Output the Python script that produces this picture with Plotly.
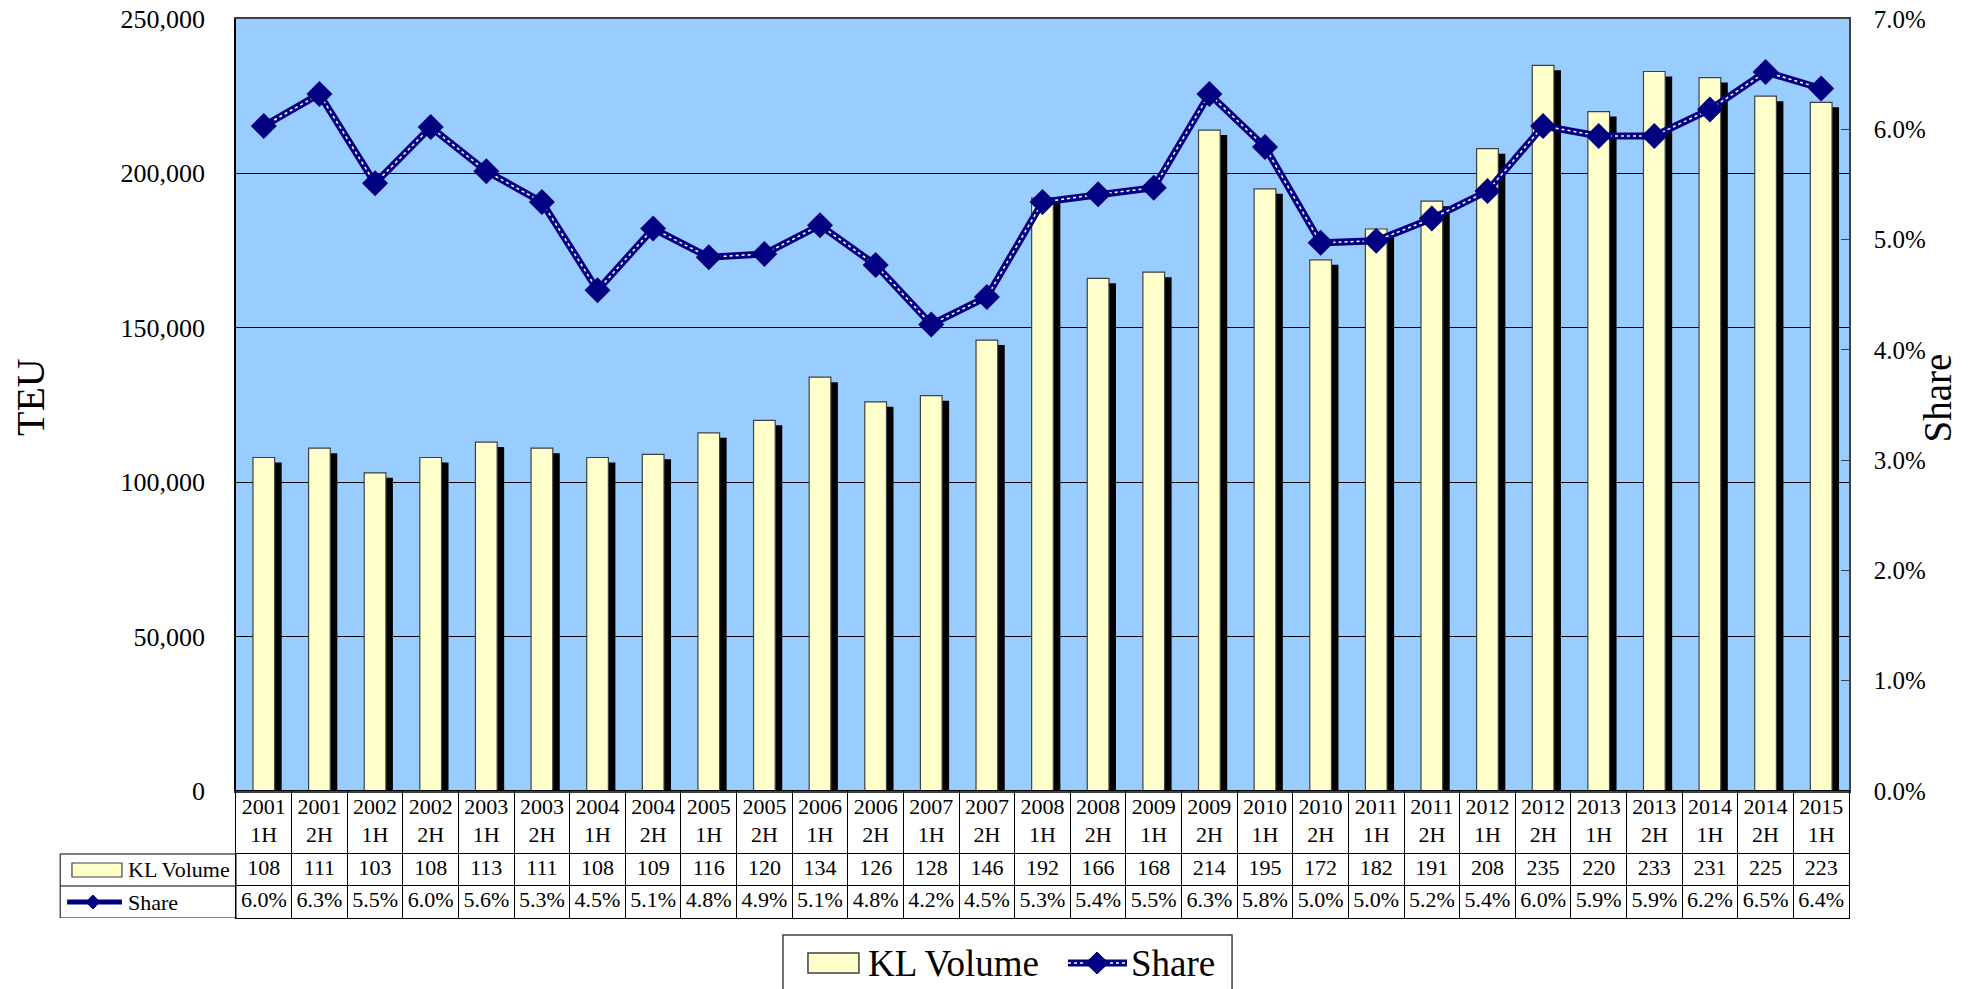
import plotly.graph_objects as go

periods = [
    "2001 1H", "2001 2H", "2002 1H", "2002 2H", "2003 1H", "2003 2H",
    "2004 1H", "2004 2H", "2005 1H", "2005 2H", "2006 1H", "2006 2H",
    "2007 1H", "2007 2H", "2008 1H", "2008 2H", "2009 1H", "2009 2H",
    "2010 1H", "2010 2H", "2011 1H", "2011 2H", "2012 1H", "2012 2H",
    "2013 1H", "2013 2H", "2014 1H", "2014 2H", "2015 1H",
]
kl_volume = [
    108000, 111000, 103000, 108000, 113000, 111000, 108000, 109000, 116000, 120000,
    134000, 126000, 128000, 146000, 192000, 166000, 168000, 214000, 195000, 172000,
    182000, 191000, 208000, 235000, 220000, 233000, 231000, 225000, 223000,
]
share = [
    0.0603, 0.0632, 0.0551, 0.0602, 0.0562, 0.0534, 0.0454, 0.0510, 0.0484, 0.0487,
    0.0513, 0.0477, 0.0423, 0.0448, 0.0534, 0.0541, 0.0547, 0.0632, 0.0584, 0.0497,
    0.0499, 0.0519, 0.0544, 0.0603, 0.0594, 0.0594, 0.0618, 0.0652, 0.0637,
]

FONT = "Liberation Serif"
NAVY = "#000080"
BAR_W = 0.39
n = len(periods)

fig = go.Figure()

# drop shadow behind the bars
fig.add_bar(
    x=periods, y=kl_volume, base=-1600, offset=-BAR_W / 2 + 0.126, width=BAR_W,
    marker=dict(color="black", line=dict(width=0)),
    showlegend=False, hoverinfo="skip",
)
fig.add_bar(
    x=periods, y=kl_volume, offset=-BAR_W / 2, width=BAR_W, name="KL Volume",
    marker=dict(color="#FFFFCC", line=dict(color="#404040", width=1.2)),
    showlegend=False,
)

# share line: thick navy line, dotted white highlight, diamond markers on top
fig.add_scatter(
    x=periods, y=share, yaxis="y2", mode="lines", name="Share",
    line=dict(color=NAVY, width=7), showlegend=False,
)
fig.add_scatter(
    x=periods, y=share, yaxis="y2", mode="lines", showlegend=False, hoverinfo="skip",
    line=dict(color="white", width=1.5, dash="dot"),
)
fig.add_scatter(
    x=periods, y=share, yaxis="y2", mode="markers", showlegend=False, hoverinfo="skip",
    marker=dict(symbol="diamond", size=20, color=NAVY),
)

# data table under the chart
table_text = (
    [p.replace(" ", "<br>") for p in periods]
    + [f"{v / 1000:.0f}" for v in kl_volume]
    + [f"{s * 100:.1f}%" for s in share]
)
fig.add_scatter(
    x=periods * 3, y=[31.5] * n + [79] * n + [111] * n,
    xaxis="x2", yaxis="y3", mode="text", text=table_text,
    textfont=dict(family=FONT, size=22, color="black"),
    showlegend=False, hoverinfo="skip",
)

shapes = [
    # white background for the table area
    dict(type="rect", xref="x2 domain", yref="y3 domain", x0=0, x1=1, y0=0, y1=1,
         fillcolor="white", line=dict(width=0), layer="below"),
    # row label column
    dict(type="rect", xref="paper", yref="y3", x0=-0.109, x1=0, y0=63, y1=127,
         line=dict(color="black", width=1)),
    dict(type="line", xref="paper", yref="y3", x0=-0.109, x1=0, y0=95, y1=95,
         line=dict(color="black", width=1)),
    dict(type="rect", xref="paper", yref="y3", x0=-0.1017, x1=-0.0707, y0=72, y1=86,
         fillcolor="#FFFFCC", line=dict(color="#404040", width=1.2)),
    dict(type="line", xref="paper", yref="y3", x0=-0.1047, x1=-0.0707, y0=111, y1=111,
         line=dict(color=NAVY, width=5)),
    dict(type="path", xref="paper", yref="y3",
         path="M -0.0930 111 L -0.0887 104 L -0.0844 111 L -0.0887 118 Z",
         fillcolor=NAVY, line=dict(color=NAVY, width=1)),
    # legend box at the bottom
    dict(type="rect", xref="paper", yref="paper", x0=0.3391, x1=0.6175, y0=-0.0189, y1=-0.12,
         fillcolor="white", line=dict(color="#404040", width=1.5)),
    dict(type="rect", xref="paper", yref="paper", x0=0.3546, x1=0.3862, y0=-0.0389, y1=-0.0612,
         fillcolor="#FFFFCC", line=dict(color="#404040", width=1.5)),
    dict(type="line", xref="paper", yref="paper", x0=0.5158, x1=0.5524, y0=-0.0501, y1=-0.0501,
         line=dict(color=NAVY, width=7)),
    dict(type="line", xref="paper", yref="paper", x0=0.5158, x1=0.5524, y0=-0.0501, y1=-0.0501,
         line=dict(color="white", width=1.5, dash="dot")),
    dict(type="path", xref="paper", yref="paper",
         path="M 0.5267 -0.0501 L 0.5338 -0.0379 L 0.5409 -0.0501 L 0.5338 -0.0623 Z",
         fillcolor=NAVY, line=dict(color=NAVY, width=1)),
]

annotations = [
    dict(text="TEU", xref="paper", yref="paper", x=-0.1277, y=0.5795, textangle=-90,
         xanchor="center", yanchor="middle", showarrow=False,
         font=dict(family=FONT, size=40, color="black")),
    dict(text="Share", xref="paper", yref="paper", x=1.0546, y=0.578, textangle=-90,
         xanchor="center", yanchor="middle", showarrow=False,
         font=dict(family=FONT, size=39, color="black")),
    dict(text="KL Volume", xref="paper", yref="y3", x=-0.0682, y=79, xanchor="left",
         showarrow=False, font=dict(family=FONT, size=22, color="black")),
    dict(text="Share", xref="paper", yref="y3", x=-0.0682, y=111, xanchor="left",
         showarrow=False, font=dict(family=FONT, size=22, color="black")),
    dict(text="KL Volume", xref="paper", yref="paper", x=0.3905, y=-0.0501,
         xanchor="left", yanchor="middle", showarrow=False,
         font=dict(family=FONT, size=37, color="black")),
    dict(text="Share", xref="paper", yref="paper", x=0.5536, y=-0.0501,
         xanchor="left", yanchor="middle", showarrow=False,
         font=dict(family=FONT, size=37, color="black")),
]

fig.update_layout(
    width=1970, height=989,
    margin=dict(l=236, r=121, t=19, b=71, autoexpand=False),
    paper_bgcolor="white", plot_bgcolor="#99CCFF",
    font=dict(family=FONT, size=25, color="black"),
    barmode="overlay",
    showlegend=False,
    xaxis=dict(domain=[0, 1], anchor="y", type="category", range=[-0.5, n - 0.5],
               showticklabels=False, ticks="", showgrid=False, showline=True,
               mirror=True, linecolor="#404040", linewidth=1.5),
    yaxis=dict(domain=[0.1413, 1], range=[0, 250000], dtick=50000, tickformat=",",
               showgrid=True, gridcolor="black", gridwidth=1, zeroline=False,
               showline=True, linecolor="black", linewidth=1.5, ticks="",
               ticklabelstandoff=24, ticklabeloverflow="allow", tickfont=dict(size=26)),
    yaxis2=dict(overlaying="y", side="right", range=[0, 0.07], dtick=0.01,
                tickformat=".1%", showgrid=False, zeroline=False, showline=True,
                linecolor="#404040", linewidth=1.5, ticks="inside", ticklen=8,
                tickcolor="#404040", ticklabelstandoff=18, ticklabeloverflow="allow"),
    xaxis2=dict(domain=[0, 1], anchor="y3", matches="x", type="category",
                showticklabels=False, tickson="boundaries", ticks="",
                showgrid=True, gridcolor="black", gridwidth=1,
                showline=True, mirror=True, linecolor="black", linewidth=1),
    yaxis3=dict(domain=[0, 0.1413], range=[127, 0], tickvals=[63, 95],
                showticklabels=False, showgrid=True, gridcolor="black", gridwidth=1,
                zeroline=False, showline=True, mirror=True, linecolor="black",
                linewidth=1, ticks=""),
    shapes=shapes,
    annotations=annotations,
)

# drop the default page margin so the figure sits at the window's top-left corner
fig.write_html(
    "out.html",
    config={"displayModeBar": False},
    post_script="document.body.style.margin='0';",
)
